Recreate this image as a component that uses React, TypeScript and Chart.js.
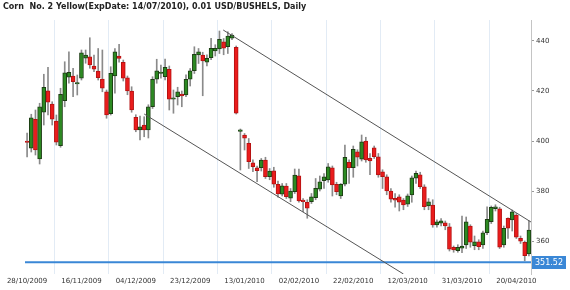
import React, { useEffect, useRef } from "react";
import { Chart, registerables } from "chart.js";
Chart.register(...registerables);

const TITLE = "Corn  No. 2 Yellow(ExpDate: 14/07/2010), 0.01 USD/BUSHELS, Daily";
const tickIndex = [0, 13, 26, 39, 52, 65, 78, 91, 104, 117];
const tickLabels = ["28/10/2009", "16/11/2009", "04/12/2009", "23/12/2009", "13/01/2010", "02/02/2010", "22/02/2010", "12/03/2010", "31/03/2010", "20/04/2010"];
const yTicks = [360, 380, 400, 420, 440];
const lastPrice = 351.52;

const opens = [
  400.0, 397.1, 408.7, 392.8, 411.5, 420.1, 414.8, 408.0, 398.1, 416.1,
  425.5, 426.0, 422.8, 425.1, 433.1, 433.7, 430.0, 428.0, 424.8, 419.7,
  410.9, 426.0, 434.0, 431.5, 425.3, 420.0, 409.5, 404.4, 406.4, 404.4,
  413.7, 424.7, 427.1, 425.7, 428.7, 416.7, 417.7, 418.8, 418.4, 424.7,
  428.1, 434.4, 434.4, 431.5, 433.3, 436.0, 436.8, 439.7, 437.7, 441.1,
  437.5, 404.0, 402.4, 399.1, 391.3, 389.3, 389.3, 392.4, 385.7, 388.1,
  382.7, 378.7, 382.0, 377.1, 379.7, 386.1, 376.4, 375.5, 375.7, 377.3,
  380.7, 384.1, 384.4, 389.3, 382.7, 378.0, 382.7, 391.5, 389.3, 395.7,
  392.7, 400.0, 393.1, 397.3, 393.7, 387.7, 385.7, 380.0, 377.1, 377.7,
  376.4, 374.7, 378.4, 385.1, 386.5, 381.7, 374.0, 374.4, 366.4, 367.1,
  367.3, 365.7, 357.5, 356.1, 357.1, 358.4, 366.0, 358.1, 359.7, 358.4,
  363.3, 367.7, 372.9, 372.9, 358.4, 369.1, 368.4, 370.4, 361.1, 359.5,
  354.8,
];
const highs = [
  403.2, 410.7, 412.4, 415.1, 426.7, 429.5, 415.7, 410.4, 421.1, 431.7,
  435.7, 429.1, 426.4, 436.4, 436.4, 441.3, 434.4, 437.0, 436.4, 420.4,
  429.7, 437.0, 438.7, 432.4, 426.0, 421.7, 410.5, 410.0, 409.7, 414.5,
  425.7, 432.7, 430.4, 432.8, 430.0, 420.4, 421.5, 420.0, 426.5, 429.0,
  437.7, 437.0, 435.5, 434.5, 441.1, 438.5, 444.0, 441.0, 443.7, 443.0,
  438.0, 404.8, 403.0, 401.0, 392.5, 390.0, 393.0, 393.5, 389.0, 389.5,
  384.0, 383.0, 383.0, 381.0, 388.8, 388.8, 377.0, 376.5, 379.0, 385.0,
  386.0, 387.0, 391.0, 390.0, 383.5, 383.0, 398.4, 392.5, 398.0, 396.5,
  402.4, 401.5, 395.0, 398.0, 395.0, 388.5, 386.5, 381.0, 379.0, 378.5,
  377.0, 378.8, 386.0, 388.0, 387.5, 382.5, 377.0, 376.5, 368.5, 369.0,
  368.0, 367.0, 358.0, 358.5, 370.0, 369.6, 366.5, 362.0, 360.5, 364.0,
  373.7, 374.0, 374.5, 373.5, 366.0, 369.3, 372.4, 371.0, 362.0, 360.0,
  368.1,
];
const lows = [
  393.6, 395.6, 394.4, 390.8, 406.4, 410.4, 406.4, 398.4, 397.5, 413.7,
  423.1, 417.7, 418.4, 424.4, 431.1, 429.1, 427.7, 424.4, 419.7, 409.1,
  410.4, 419.1, 431.5, 424.0, 418.5, 411.5, 403.7, 400.4, 401.7, 401.2,
  413.0, 423.1, 425.1, 424.4, 412.4, 411.1, 414.4, 413.7, 417.7, 422.0,
  427.0, 431.0, 418.1, 430.0, 432.5, 434.0, 435.0, 434.5, 435.0, 440.5,
  410.8, 388.4, 396.4, 389.0, 387.7, 383.7, 388.0, 385.0, 384.5, 381.5,
  377.5, 378.0, 377.0, 375.7, 379.0, 375.5, 371.7, 369.1, 375.0, 376.5,
  380.0, 381.0, 383.5, 378.0, 378.5, 377.0, 382.0, 383.0, 385.5, 390.0,
  392.0, 391.5, 386.5, 393.0, 385.5, 381.0, 378.5, 375.5, 373.5, 372.0,
  372.5, 373.8, 375.5, 383.0, 381.0, 372.5, 372.5, 365.5, 365.5, 366.0,
  364.5, 356.0, 355.5, 355.5, 355.3, 357.0, 357.5, 356.5, 356.5, 357.0,
  362.5, 367.0, 372.0, 357.0, 357.5, 361.0, 364.0, 361.0, 359.0, 352.1,
  354.0,
];
const closes = [
  399.4, 409.3, 396.4, 413.7, 421.5, 415.5, 408.7, 399.5, 418.7, 427.3,
  427.5, 423.7, 423.4, 435.3, 434.4, 430.4, 428.7, 425.3, 421.1, 410.4,
  427.1, 435.7, 433.0, 425.1, 420.0, 412.4, 404.4, 405.7, 404.4, 413.7,
  424.7, 428.1, 427.5, 429.5, 416.7, 417.3, 419.7, 418.0, 424.7, 428.1,
  434.7, 435.7, 432.0, 433.1, 437.1, 437.1, 440.7, 437.1, 442.0, 442.4,
  411.1, 404.3, 401.1, 391.7, 389.7, 388.1, 392.4, 385.7, 388.0, 382.7,
  378.8, 382.1, 377.7, 380.0, 386.4, 376.0, 375.7, 373.1, 377.7, 381.1,
  383.7, 385.7, 389.7, 382.4, 379.7, 382.7, 393.5, 389.3, 396.7, 393.5,
  399.7, 392.4, 392.0, 393.7, 386.4, 385.7, 380.0, 376.7, 376.3, 375.5,
  374.4, 378.1, 385.3, 387.1, 381.7, 373.7, 375.7, 366.4, 367.7, 368.1,
  366.0, 356.7, 356.4, 357.5, 358.0, 367.7, 359.5, 359.7, 357.7, 363.3,
  368.7, 373.5, 373.7, 357.5, 365.1, 365.1, 371.7, 361.5, 359.9, 354.1,
  364.4,
];

const upperTrend = [{ x: 46.9, y: 444.4 }, { x: 120.5, y: 367.6 }];
const lowerTrend = [{ x: 28.0, y: 410.8 }, { x: 90.0, y: 346.8 }];

const X_MIN = -0.5;
const X_MAX = 120.5;
const Y_MIN = 346.8;
const Y_MAX = 448.4;

const FONT = '"DejaVu Sans", Verdana, sans-serif';

const priceLabel = {
  id: "priceLabel",
  afterDraw(chart: any) {
    const { ctx, chartArea, scales } = chart;
    const y = Math.round(scales.y.getPixelForValue(lastPrice));
    ctx.save();
    ctx.fillStyle = "#3a87d6";
    ctx.fillRect(chartArea.right + 1, y - 6, 34, 13);
    ctx.fillStyle = "#ffffff";
    ctx.font = "8px " + FONT;
    ctx.textBaseline = "middle";
    ctx.textAlign = "center";
    ctx.fillText(lastPrice.toFixed(2), chartArea.right + 18, y + 1);
    ctx.restore();
  },
};

export default function App() {
  const ref = useRef<HTMLCanvasElement | null>(null);

  useEffect(() => {
    if (!ref.current) return;
    const n = opens.length;
    const bodies = [];
    const wicks = [];
    const bodyColors: string[] = [];
    const bodyBorders: string[] = [];
    for (let i = 0; i < n; i++) {
      const o = opens[i];
      const c = closes[i];
      let lo = Math.min(o, c);
      let hi = Math.max(o, c);
      if (hi - lo < 0.6) {
        const m = (hi + lo) / 2;
        lo = m - 0.3;
        hi = m + 0.3;
      }
      bodies.push({ x: i, y: [lo, hi] });
      wicks.push({ x: i, y: [lows[i], highs[i]] });
      const up = c >= o;
      bodyColors.push(up ? "#2c8a22" : "#ea1c1c");
      bodyBorders.push(up ? "#1d3d14" : "#b51212");
    }

    const chart = new Chart(ref.current, {
      type: "bar",
      data: {
        datasets: [
          {
            type: "line",
            data: upperTrend,
            borderColor: "#555555",
            borderWidth: 1,
            pointRadius: 0,
            tension: 0,
          } as any,
          {
            type: "line",
            data: lowerTrend,
            borderColor: "#555555",
            borderWidth: 1,
            pointRadius: 0,
            tension: 0,
          } as any,
          {
            type: "line",
            data: [{ x: X_MIN, y: lastPrice }, { x: X_MAX, y: lastPrice }],
            borderColor: "#3a87d6",
            borderWidth: 2,
            pointRadius: 0,
            tension: 0,
          } as any,
          {
            type: "bar",
            data: bodies,
            backgroundColor: bodyColors,
            borderColor: bodyBorders,
            borderWidth: 1,
            borderSkipped: false,
            barThickness: 4,
            grouped: false,
          } as any,
          {
            type: "bar",
            data: wicks,
            backgroundColor: "#8a8a8a",
            borderWidth: 0,
            barThickness: 1,
            grouped: false,
          } as any,
        ],
      },
      options: {
        animation: false,
        responsive: false,
        maintainAspectRatio: false,
        layout: { padding: { left: 25, top: 20, right: 0, bottom: 0 } },
        plugins: {
          legend: { display: false },
          tooltip: { enabled: false },
        },
        scales: {
          x: {
            type: "linear",
            min: X_MIN,
            max: X_MAX,
            offset: false,
            afterBuildTicks: (axis: any) => {
              axis.ticks = tickIndex.map((v) => ({ value: v }));
            },
            afterFit: (axis: any) => {
              axis.height = 16;
            },
            ticks: {
              autoSkip: false,
              maxRotation: 0,
              padding: 3,
              color: "#333333",
              font: { family: FONT, size: 7 },
              callback: (v: any) => {
                const k = tickIndex.indexOf(Number(v));
                return k >= 0 ? tickLabels[k] : "";
              },
            },
            grid: {
              color: "#e2ebf5",
              lineWidth: 1,
              drawTicks: false,
            },
            border: { display: false },
          },
          y: {
            type: "linear",
            position: "right",
            min: Y_MIN,
            max: Y_MAX,
            afterBuildTicks: (axis: any) => {
              axis.ticks = yTicks.map((v) => ({ value: v }));
            },
            afterFit: (axis: any) => {
              axis.width = 39;
            },
            ticks: {
              padding: 2,
              color: "#333333",
              font: { family: FONT, size: 7 },
            },
            grid: {
              drawOnChartArea: false,
              drawTicks: true,
              tickLength: 3,
              color: "#999999",
            },
            border: { display: true, color: "#c4c4c4" },
          },
        },
      } as any,
      plugins: [priceLabel],
    });
    return () => chart.destroy();
  }, []);

  return (
    <div style={{ position: "absolute", left: 0, top: 0, width: 570, height: 290, background: "#ffffff" }}>
      <canvas ref={ref} width={570} height={290} style={{ display: "block" }} />
      <div
        style={{
          position: "absolute",
          left: 3,
          top: 2,
          font: "bold 8px " + FONT,
          lineHeight: "10px",
          color: "#222222",
          whiteSpace: "pre",
        }}
      >
        {TITLE}
      </div>
    </div>
  );
}
